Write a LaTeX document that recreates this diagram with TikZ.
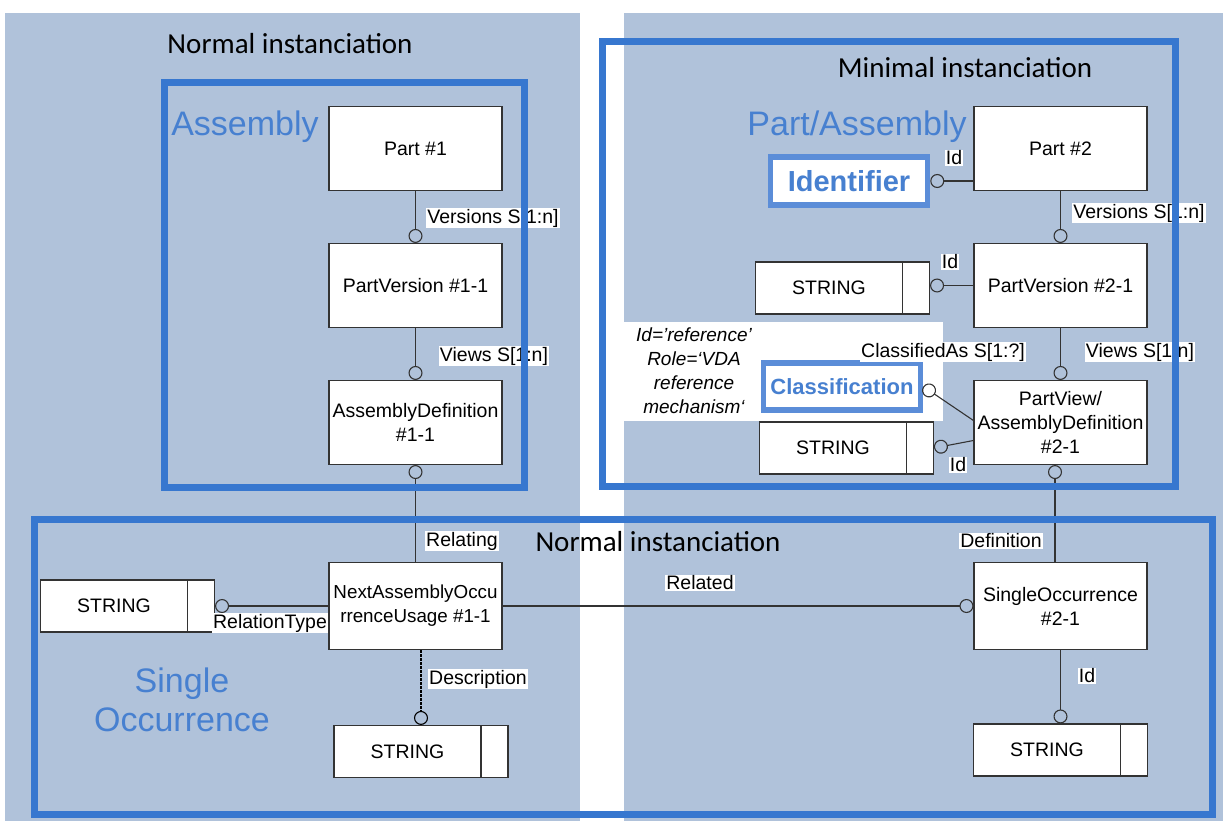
\documentclass[tikz,border=0pt]{standalone}
\usepackage{fontspec}
\setmainfont{Liberation Sans}
\newfontfamily\calibri{Carlito}
\usetikzlibrary{arrows.meta}
\definecolor{panelblue}{HTML}{B0C2DA}
\definecolor{grpblue}{HTML}{3777CF}
\definecolor{tagblue}{HTML}{5B8DD8}
\definecolor{nameblue}{HTML}{4780D0}

\begin{document}
\begin{tikzpicture}[x=1pt, y=-1pt,
  panel/.style={fill=panelblue},
  grpframe/.style={draw=grpblue, line width=7pt},
  entity/.style={draw=black!80, line width=1.1pt, fill=white, minimum width=173pt, minimum height=84pt, align=center, inner sep=1pt, font=\fontsize{19.5}{24}\selectfont},
  strbox/.style={draw=black!80, line width=1.1pt, fill=white, minimum width=174pt, minimum height=52pt, inner sep=0pt, font=\fontsize{19.5}{24}\selectfont,
    path picture={\draw[black!80, line width=1.1pt] ([xshift=-27pt]path picture bounding box.north east) -- ([xshift=-27pt]path picture bounding box.south east);}},
  role/.style={fill=white, inner sep=1pt, font=\fontsize{19.5}{20}\selectfont},
  heading/.style={font=\calibri\fontsize{29}{34}\selectfont},
  grpname/.style={text=nameblue, font=\fontsize{34}{40}\selectfont, align=center},
  tagbox/.style={draw=tagblue, line width=5.5pt, fill=white, text=nameblue, inner sep=0pt, font=\bfseries},
  conn/.style={draw=black!80, line width=1.1pt},
  ringend/.style={-{Circle[open, length=14pt, line width=1.1pt]}},
  ringstart/.style={{Circle[open, length=14pt, line width=1.1pt]}-}]
\useasboundingbox (0,0) rectangle (1223,821);

\fill[panel] (5,13) rectangle (580,821);
\fill[panel] (624,13) rectangle (1223,821);
\fill[white] (624,322) rectangle (943,421);

\node[heading] (hleft) at (290,44) {Normal instanciation};
\node[heading] (hright) at (965,68) {Minimal instanciation};
\node[heading] (hbottom) at (658,542) {Normal instanciation};

\node[grpname] (gasm) at (245,127) {Assembly};
\node[grpname] (gpart) at (857,127) {Part/Assembly};
\node[grpname] (gsingle) at (182,700) {Single\\[-1pt]Occurrence};

\node[align=center, font=\itshape\fontsize{19}{24}\selectfont] (note) at (694,371) {Id=’reference’\\Role=‘VDA\\reference\\mechanism‘};

\node[entity] (part1) at (415.5,148.5) {Part \#1};
\node[entity] (pv1) at (415.5,285.5) {PartVersion \#1-1};
\node[entity] (ad1) at (415.5,422.5) {AssemblyDefinition\\\#1-1};
\node[entity, minimum height=87pt, font=\fontsize{18.8}{24}\selectfont, inner sep=0pt] (naou) at (415.5,606) {NextAssemblyOccu\\rrenceUsage \#1-1};
\node[entity] (part2) at (1060.5,148.5) {Part \#2};
\node[entity] (pv2) at (1060.5,285.5) {PartVersion \#2-1};
\node[entity] (pvad2) at (1060.5,422.5) {PartView/\\AssemblyDefinition\\\#2-1};
\node[entity, minimum height=87pt] (so2) at (1060.5,606) {SingleOccurrence\\\#2-1};

\node[strbox] (strrel) at (127.5,606) {STRING\kern27pt};
\node[strbox] (strdesc) at (421,751.5) {STRING\kern27pt};
\node[strbox] (strid) at (1060.5,750) {STRING\kern27pt};
\node[strbox] (strpv) at (842.5,288) {STRING\kern27pt};
\node[strbox] (strview) at (846.5,448) {STRING\kern27pt};

\node[tagbox, minimum width=157pt, minimum height=48pt, font=\bfseries\fontsize{29}{34}\selectfont] (ident) at (849,181) {Identifier};
\node[tagbox, minimum width=157pt, minimum height=47pt, font=\bfseries\fontsize{22}{26}\selectfont] (cls) at (842,386.5) {Classification};

\draw[conn, ringend] (part1.south) -- (pv1.north);
\draw[conn, ringend] (pv1.south) -- (ad1.north);
\draw[conn, ringstart] (ad1.south) -- (naou.north);
\draw[conn, ringend] (naou.east) -- (so2.west);
\draw[conn, ringend] (naou.west) -- (strrel.east);
\draw[conn, draw=black, line width=1.6pt, dash pattern=on 3pt off 1pt, ringend] (strdesc.north |- naou.south) -- (strdesc.north);
\draw[conn, ringend] (so2.south) -- (strid.north);
\draw[conn, ringstart] ([xshift=-5.5pt]pvad2.south) -- ([xshift=-5.5pt]so2.north);
\draw[conn, ringend] (part2.south) -- (pv2.north);
\draw[conn, ringend] (pv2.south) -- (pvad2.north);
\draw[conn, ringend] (part2.west |- ident.east) -- (ident.east);
\draw[conn, ringend] (pv2.west) -- (pv2.west -| strpv.east);
\draw[conn, ringend] ([yshift=2pt]pvad2.west) -- (cls.east);
\draw[conn, ringend] ([yshift=-18pt]pvad2.west) -- (strview.east);

\node[role] (lver1) at (493,218) {Versions S[1:n]};
\node[role] (lview1) at (494,356) {Views S[1:n]};
\node[role] (lrelating) at (462,541) {Relating};
\node[role] (lrelated) at (700,583) {Related};
\node[role] (lreltype) at (270,623) {RelationType};
\node[role] (ldesc) at (478,679) {Description};
\node[role] (lid4) at (1087,676) {Id};
\node[role] (ldef) at (1001,541) {Definition};
\node[role] (lver2) at (1139,213) {Versions S[1:n]};
\node[role] (lview2) at (1140,352) {Views S[1:n]};
\node[role] (lid1) at (954,158) {Id};
\node[role] (lid2) at (950,262) {Id};
\node[role] (lclass) at (943,352) {ClassifiedAs S[1:?]};
\node[role] (lid3) at (958,465) {Id};

\draw[grpframe] (164.5,82.5) rectangle (524.5,487.5);
\draw[grpframe] (602.5,41.5) rectangle (1175.5,486.5);
\draw[grpframe] (34.5,519.5) rectangle (1212.5,814.5);
\end{tikzpicture}
\end{document}
